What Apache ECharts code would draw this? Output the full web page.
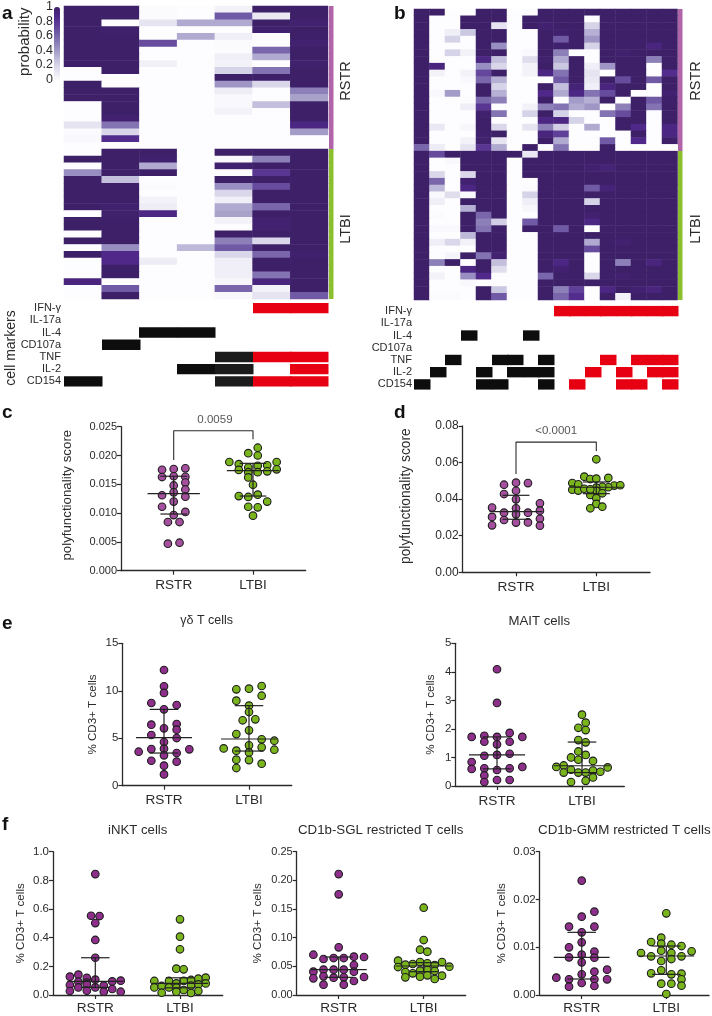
<!DOCTYPE html>
<html><head><meta charset="utf-8">
<style>html,body{margin:0;padding:0;background:#fff}#c{width:712px;height:1016px}</style>
<script src="https://cdn.jsdelivr.net/npm/echarts@6/dist/echarts.min.js"></script>
</head><body><div id="c"></div>
<script>
// ---------- heatmap data (rows = donors, columns = marker combinations) ----------
const groupNames = ['RSTR','LTBI'];
const groupSizes = [21,22];
const markerNames = ['IFN-γ','IL-17a','IL-4','CD107a','TNF','IL-2','CD154'];
const heatA = [
[1,1,.01,0,.05,1,1],[1,1,.01,0,.65,.1,1],[1,0,.12,.35,.35,1,.97],[1,.98,0,0,0,.98,1],[1,1,0,.35,.07,0,1],
[1,1,.7,0,.01,0,.97],[1,1,0,0,.01,.6,1],[1,1,0,0,.07,.35,1],[1,1,.06,0,.05,0,.98],[0,1,0,0,.2,.55,1],
[0,0,0,0,1,1,1],[1,0,0,0,.42,.18,1],[1,1,0,0,.08,0,.5],[1,1,0,0,.02,0,.38],[0,1,0,0,.02,.28,1],
[0,1,0,0,.05,0,1],[0,.97,0,0,0,0,1],[.12,.55,0,0,0,0,.9],[.01,.18,0,0,0,0,.4],[.02,.85,0,0,0,0,0],[0,0,0,0,0,0,0],
[0,1,1,0,1,1,1],[1,1,.98,0,.02,.5,1],[0,1,.35,0,.98,1,1],[.45,1,1,0,.01,.8,1],[1,.28,0,0,1,1,1],
[1,1,.01,0,.45,.7,1],[1,1,0,0,.18,1,1],[1,1,.05,0,.07,1,1],[1,.98,.08,0,.35,.6,1],[0,.98,.9,0,.38,1,1],
[1,1,0,0,.05,.97,1],[1,1,0,0,0,.97,1],[0,1,0,0,1,1,1],[1,1,0,0,.5,.18,1],[0,.45,0,.3,.65,1,1],
[1,.88,0,0,.18,.6,.98],[0,.88,.08,0,.07,1,1],[0,1,0,0,.07,1,1],[0,1,0,0,.07,.55,1],[.92,0,0,0,.03,.92,1],
[0,.65,0,0,.6,.05,1],[0,1,0,0,.02,.12,.65]];
const heatB = [
[1,1,0,0,1,1,0,.01,1,1,1,1,1,1,1,1,1],[1,0,0,1,1,1,0,1,1,1,1,0,1,1,1,1,1],[1,0,0,1,1,.12,0,1,.97,1,1,.2,1,1,1,1,1],
[1,0,.07,.25,1,1,0,0,1,.98,1,.33,1,1,1,1,1],[1,0,.2,0,1,1,0,0,1,.65,1,.42,1,1,1,1,1],[1,0,0,0,1,.45,0,0,1,.98,1,.2,1,1,1,.92,1],
[1,0,.2,.05,1,1,0,.02,1,.5,0,0,1,.98,1,1,1],[1,0,0,0,.9,.28,0,.15,.98,.35,1,0,1,1,1,.5,1],[1,.92,0,0,.45,.18,0,.05,1,.25,1,.07,.42,1,1,0,1],
[1,.05,0,.05,.72,1,0,.05,.9,.55,1,.12,0,1,1,0,.85],[1,0,0,.02,.6,.33,0,0,0,.65,1,.1,1,.7,1,.65,1],[1,0,0,0,1,.2,0,0,1,.28,.95,.07,.92,1,1,0,1],
[1,.02,.4,0,1,.33,0,0,.88,.35,.9,.55,.7,1,0,0,.97],[1,0,0,.01,.6,.5,0,0,1,0,.4,.33,1,0,1,.65,1],[1,0,0,.07,.8,0,0,.05,.5,.55,.35,.42,0,.5,1,.55,1],
[1,0,0,0,.98,.55,0,.2,1,.2,0,0,.55,.7,1,0,1],[1,0,0,0,1,0,0,0,.9,.9,.2,0,0,1,1,0,1],[1,.1,0,.03,1,.18,0,.12,.5,.22,0,.35,0,1,.88,0,.9],
[1,0,0,0,.98,1,0,0,.92,.75,0,0,0,0,1,0,.9],[1,0,0,.05,.98,.12,0,0,1,.35,0,0,.65,0,.88,0,1],[.6,.08,0,.12,.8,.35,0,1,0,.55,0,0,1,0,0,0,0],
[1,.7,1,1,1,1,1,.1,1,1,1,1,1,1,1,1,1],[1,0,.02,1,1,1,0,1,1,1,1,1,1,1,1,1,1],[1,0,0,1,1,1,0,1,1,1,1,.97,.95,1,1,1,1],
[1,.18,0,.18,1,1,0,1,1,1,1,1,1,1,1,1,1],[1,.6,0,.97,1,1,0,0,1,1,1,1,1,1,1,1,1],[1,.3,0,.9,1,1,0,.01,1,1,1,.65,.95,1,1,1,1],
[1,.02,.15,.02,1,1,0,.2,1,1,1,1,1,1,1,1,1],[1,.07,0,1,1,1,0,.07,1,1,1,.2,1,1,1,1,1],[1,0,0,.33,1,1,0,.03,1,1,1,1,1,1,1,1,1],
[1,.01,0,1,.6,1,0,0,1,1,1,.97,1,1,1,1,1],[1,0,0,1,.5,.22,0,.65,1,1,1,.9,1,1,1,1,1],[1,.02,.02,1,.55,1,0,1,1,.65,1,0,1,1,1,1,1],
[1,0,0,.3,1,1,0,0,1,1,1,1,1,1,1,1,1],[1,.07,.18,.05,1,1,0,0,1,1,1,.35,1,.97,1,1,1],[1,0,0,0,1,1,0,0,1,1,1,.7,1,1,1,1,1],
[1,0,.04,1,.55,.97,0,0,1,1,1,0,1,1,1,1,1],[1,.5,1,0,1,.28,0,0,1,.9,1,0,1,.5,1,.92,1],[1,0,0,.9,1,.15,0,0,1,.97,1,0,1,1,1,1,1],
[1,.05,0,.45,.88,0,0,0,.6,1,1,.18,1,.97,1,1,1],[1,0,0,.02,0,0,0,0,1,1,1,1,1,1,1,1,1],[1,0,0,0,1,.25,0,0,1,.5,.75,0,.9,1,.97,.92,1],
[1,.01,.01,0,1,.65,0,0,1,.6,.85,0,1,.05,1,1,1]];
// marker cells: 0 none, 1 black, 2 red, 3 charcoal  (rows follow markerNames)
const markersA = [
[0,0,0,0,0,2,2],[0,0,0,0,0,0,0],[0,0,1,1,0,0,0],[0,1,0,0,0,0,0],[0,0,0,0,3,2,2],[0,0,0,1,3,0,2],[1,0,0,0,3,2,2]];
const markersB = [
[0,0,0,0,0,0,0,0,0,2,2,2,2,2,2,2,2],[0,0,0,0,0,0,0,0,0,0,0,0,0,0,0,0,0],[0,0,0,1,0,0,0,1,0,0,0,0,0,0,0,0,0],
[0,0,0,0,0,0,0,0,0,0,0,0,0,0,0,0,0],[0,0,1,0,0,1,1,0,1,0,0,0,2,0,2,2,2],[0,1,0,0,1,0,1,1,1,0,0,2,0,2,0,2,2],
[1,0,0,0,1,1,0,0,1,0,2,0,0,2,2,0,2]];

// ---------- scatter data: values, swarm lanes, and [lower quartile, median, upper quartile] ----------
const groupLabels = ['RSTR','LTBI'];
const cRstr = [.01753,.01765,.01777,.01626,.0164,.0163,.0153,.0148,.0141,.0136,.0131,.01285,.012,.0111,.0102,.00966,.00845,.00845,.00469,.00486];
const cRstrLane = [-2,0,2,-2,0,2,2,0,2,0,-2,2,0,-2,2,0,-1,1,-1,1];
const cLtbi = [.02135,.0204,.02,.01887,.0185,.01887,.0183,.0179,.0182,.0175,.01725,.0176,.0171,.0171,.0162,.01493,.01296,.0128,.0132,.012,.0111,.011,.00955];
const cLtbiLane = [1,-1,1,-5,-3,5,3,-1,1,-3,3,5,-1,1,-1,0,-3,-1,1,3,-1,1,0];
const cRstrStats = [.00984,.01337,.0164], cLtbiStats = [.01296,.01736,.01864];

const dRstr = [.0479,.049,.0488,.0428,.0446,.0399,.0377,.0354,.035,.0337,.0326,.0317,.0326,.0303,.0293,.0286,.0272,.0273,.0257,.0255];
const dRstrLane = [-1,0,1,-1,0,0,2,-2,0,2,-1,0,1,-2,2,-1,0,1,-2,2];
const dLtbi = [.0618,.0523,.0516,.051,.0512,.0488,.0452,.0481,.0447,.0474,.0476,.0465,.0468,.0463,.0445,.0432,.0423,.0405,.0374,.0359,.035,.0457,.0454];
const dLtbiLane = [0,-2,2,-1,0,-4,-4,-3,-3,3,4,2,1,0,0,1,-1,0,0,1,-1,-2,-1];
const dRstrStats = [.029,.0332,.0421], dLtbiStats = [.043,.0465,.0494];

const e1Rstr = [12.19,10.47,9.77,8.71,8.5,8.04,6.43,6.5,6.04,5.9,5.34,5.02,4.6,3.86,3.9,3.83,3.58,3.44,3.2,2.63,2.53,2.11,1.19];
const e1RstrLane = [0,0,0,-1,1,0,-1,1,0,1,-1,1,0,-1,0,2,-2,1,0,-1,1,0,0];
const e1Ltbi = [10.5,10.15,10.22,8.96,9.48,8.43,7.76,6.89,6.99,5.83,5.44,4.88,4.74,4.25,4.04,3.93,3.69,3.79,3.51,2.74,2.7,2.32,1.86];
const e1LtbiLane = [2,-2,0,-2,2,0,0,-1,1,0,-2,2,4,0,2,-4,-2,4,0,-2,0,2,-2];
const e1RstrStats = [3.44,5.06,8.04], e1LtbiStats = [3.65,4.92,8.43];

const e2Rstr = [4.09,2.91,1.86,1.76,1.72,1.72,1.72,1.55,1.55,1.46,1.13,1.06,1.09,.84,.67,.6,.62,.62,.56,.37,.21,.21,.14];
const e2RstrLane = [0,0,1,-1,-2,0,2,-1,1,0,1,-1,0,-2,2,-2,-1,1,0,-1,0,1,-1];
const e2Ltbi = [2.5,2.22,2.04,1.96,1.61,1.53,1.21,1,1.09,.92,.88,.72,.67,.65,.57,.47,.47,.47,.54,.5,.3,.18,.14];
const e2LtbiLane = [0,1,-1,1,-1,1,-1,-3,1,-1,3,-5,-7,7,-3,-5,-1,1,3,5,3,1,-3];
const e2RstrStats = [.6,1.09,1.72], e2LtbiStats = [.47,.71,1.54];

const f1Rstr = [.844,.553,.551,.502,.384,.26,.128,.142,.119,.107,.093,.086,.095,.1,.07,.053,.074,.053,.065,.042,.028,.03,.023,.023];
const f1RstrLane = [0,-1,1,0,0,0,-6,-4,-2,0,-4,-2,4,6,-6,-4,-2,0,2,4,-6,-2,2,6];
const f1Ltbi = [.528,.407,.319,.184,.179,.121,.114,.098,.098,.105,.098,.081,.081,.074,.053,.063,.053,.05,.065,.035,.023,.016,.014,.028];
const f1LtbiLane = [0,0,0,-1,1,7,5,-7,-3,3,1,-1,7,5,-7,-5,-3,-1,3,1,-1,-5,3,5];
const f1RstrStats = [.053,.095,.26], f1LtbiStats = [.05,.081,.12];

const f2Rstr = [.211,.1756,.0831,.0703,.0628,.0645,.0645,.0669,.0663,.0523,.0407,.0442,.0442,.0442,.0407,.0291,.0326,.0302,.0308,.0314,.0244,.018,.018];
const f2RstrLane = [0,0,0,-5,-3,-1,1,3,5,3,-5,-3,-1,1,3,-5,-3,-1,1,5,3,-3,1];
const f2Ltbi = [.1523,.0959,.079,.0756,.0599,.0576,.0576,.0541,.0552,.0529,.0523,.0488,.0494,.0378,.0401,.0424,.0436,.0419,.032,.0343,.0337,.0308,.0279];
const f2LtbiLane = [0,0,-1,1,-7,5,-1,-3,1,-5,3,-7,7,-3,-5,-1,1,3,-1,1,5,-5,3];
const f2RstrStats = [.0308,.0442,.0663], f2LtbiStats = [.0407,.0506,.0564];

const f3Rstr = [.02393,.0164,.01744,.0143,.0143,.01312,.01102,.00998,.00907,.00844,.00788,.00781,.00684,.00488,.0053,.00433,.00363,.00328,.00328,.00328,.00251,.00174,.00188];
const f3RstrLane = [0,0,1,-1,1,0,0,-1,1,0,-1,1,0,1,2,0,-2,-1,1,2,0,-1,1];
const f3Ltbi = [.01709,.012,.01109,.01074,.01053,.01025,.00928,.00879,.00879,.00914,.00809,.00809,.00753,.00712,.00516,.00453,.00432,.00446,.00328,.00237,.00237,.00195,.00021];
const f3LtbiLane = [0,-1,-3,-1,1,3,-1,1,-5,5,-3,3,1,-1,-1,-3,1,3,3,-1,1,3,0];
const f3RstrStats = [.00335,.00788,.01312], f3LtbiStats = [.00432,.00816,.01025];

// ---------- styling ----------
const FONT = '"Liberation Sans", Arial, sans-serif';
const INK = '#2b2b2b', AXIS = '#2a2a2a';
const PURPLE_L = '#a5509f', PURPLE_D = '#8e2f8c', GREEN = '#7ab51d';
const HEAT = ['#fdfcfe','#e5e3f0','#cbc8e2','#a9a3cc','#8d80b9','#7460a8','#5f3f98','#50288a','#3d2068'];

const grid=[], xAxis=[], yAxis=[], series=[], graphic=[], title=[];
function addGrid(g,x,y){ grid.push(g); xAxis.push(Object.assign({gridIndex:grid.length-1},x)); yAxis.push(Object.assign({gridIndex:grid.length-1},y)); return grid.length-1; }
const hiddenCat = (data,inv)=>({type:'category',data,inverse:!!inv,show:false,boundaryGap:true});
function rotText(text,x,y,size){ graphic.push({type:'text',x,y,rotation:Math.PI/2,silent:true,style:{text,font:size+'px '+FONT,fill:INK,align:'center',verticalAlign:'middle'}}); }
function head(text,x,y,size,bold){ title.push({text,left:x,top:y,textAlign:bold?'left':'center',padding:0,textStyle:{fontFamily:FONT,fontSize:size,fontWeight:bold?'bold':'normal',color:bold?'#111':INK}}); }
const heatSeriesIndex=[];

// heatmap + group side bar + marker matrix
function heatPanel(rows,markers,box,mBox,sideX,labelGap){
  const cols = rows[0].map((_,i)=>'c'+i), ids = rows.map((_,i)=>'r'+i);
  const gi = addGrid({left:box.x,top:box.y,width:box.w,height:box.h},hiddenCat(cols),hiddenCat(ids,true));
  const data=[]; rows.forEach((r,ri)=>r.forEach((v,ci)=>data.push([ci,ri,v])));
  heatSeriesIndex.push(series.length);
  series.push({type:'heatmap',xAxisIndex:gi,yAxisIndex:gi,data,progressive:0,animation:false,emphasis:{disabled:true}});
  // group colour bar, same height as the rows, stacked from the group sizes
  const si = addGrid({left:sideX,top:box.y,width:4.5,height:box.h},{type:'category',data:['group'],show:false},
    {type:'value',min:0,max:rows.length,inverse:true,show:false});
  groupNames.forEach((n,i)=>series.push({type:'bar',name:n,stack:'s'+si,xAxisIndex:si,yAxisIndex:si,barWidth:'100%',data:[groupSizes[i]],
    itemStyle:{color:i?'#8cbf2e':'#b264a9'},silent:true}));
  // marker matrix
  const mi = addGrid({left:mBox.x,top:mBox.y,width:box.w,height:mBox.h},hiddenCat(cols),
    {type:'category',data:markerNames,inverse:true,axisLine:{show:false},axisTick:{show:false},
     axisLabel:{interval:0,fontFamily:FONT,fontSize:11,color:INK,margin:labelGap}});
  const md=[]; markers.forEach((r,ri)=>r.forEach((v,ci)=>{ if(v) md.push([ci,ri,v]); }));
  const mc={1:'#0d0d0d',2:'#e60012',3:'#1b1b1b'};
  series.push({type:'custom',xAxisIndex:mi,yAxisIndex:mi,data:md,silent:true,encode:{x:0,y:1},
    renderItem(p,api){ const c=api.coord([api.value(0),api.value(1)]), s=api.size([1,1]), h=s[1]*0.85;
      return {type:'rect',shape:{x:Math.round(c[0]-s[0]/2),y:c[1]-h/2,width:Math.round(s[0]+.5)+.5,height:h},style:{fill:mc[api.value(2)]}}; }});
}

// dot plot panel, px box is only layout
function dotPanel(cfg){
  const pitch=cfg.t2-cfg.t1, xmin=1-(cfg.t1-cfg.l)/pitch, xmax=2+(cfg.r-cfg.t2)/pitch;
  const gi=addGrid({left:cfg.l,width:cfg.r-cfg.l,top:cfg.top,height:cfg.bottom-cfg.top},
   {type:'value',min:xmin,max:xmax,splitLine:{show:false},
    axisLine:{onZero:false,lineStyle:{color:AXIS,width:1.3}},
    axisTick:{customValues:[1,2],length:4,lineStyle:{color:AXIS,width:1.2}},
    axisLabel:{customValues:[1,2],formatter:v=>groupLabels[Math.round(v)-1],fontFamily:FONT,fontSize:cfg.xFont||13.6,color:INK,margin:cfg.xMargin||8,showMinLabel:true,showMaxLabel:true}},
   {type:'value',min:0,max:cfg.max,interval:cfg.step,splitLine:{show:false},
    name:cfg.name,nameLocation:'middle',nameGap:cfg.gap,nameTextStyle:{fontFamily:FONT,fontSize:cfg.nameFont,color:INK,padding:cfg.namePad||0},
    axisLine:{show:true,onZero:false,lineStyle:{color:AXIS,width:1.3}},
    axisTick:{show:true,length:4,lineStyle:{color:AXIS,width:1.2}},
    axisLabel:{formatter:v=>v.toFixed(cfg.dec),fontFamily:FONT,fontSize:cfg.tickFont,color:INK,margin:cfg.tickMargin||4,showMaxLabel:true}});
  const groups=[[1,cfg.rstr,cfg.rLane,cfg.rStep,cfg.purple,cfg.rStats],[2,cfg.ltbi,cfg.lLane,cfg.lStep,GREEN,cfg.lStats]];
  groups.forEach(([g,vals,lanes,step,col,st])=>{
    series.push({type:'scatter',xAxisIndex:gi,yAxisIndex:gi,clip:false,z:3,symbolSize:7.6,silent:true,
      itemStyle:{color:col,borderColor:'#1d1d1d',borderWidth:1.1,opacity:1},
      data:vals.map((v,i)=>[g+lanes[i]*step,v])});
    series.push({type:'custom',xAxisIndex:gi,yAxisIndex:gi,z:4,silent:true,clip:false,data:[[g,st[0],st[1],st[2]]],
      encode:{x:0,y:[1,2,3]},
      renderItem(p,api){ const gx=api.value(0), lo=api.value(1), me=api.value(2), hi=api.value(3);
        const seg=(x1,y1,x2,y2)=>{const a=api.coord([x1,y1]),b=api.coord([x2,y2]);
          return {type:'line',shape:{x1:a[0],y1:a[1],x2:b[0],y2:b[1]},style:{stroke:'#222',lineWidth:1.2}};};
        return {type:'group',children:[seg(gx-.33,me,gx+.33,me),seg(gx-.168,lo,gx+.168,lo),seg(gx-.168,hi,gx+.168,hi),seg(gx,lo,gx,hi)]}; }});
  });
  if(cfg.sig){ const [a,b,c,txt]=cfg.sig;
    series.push({type:'line',xAxisIndex:gi,yAxisIndex:gi,clip:false,z:2,silent:true,showSymbol:false,symbol:'none',
      lineStyle:{color:'#2a2a2a',width:1.1},data:[[1,a],[1,b],[2,b],[2,c]]});
    series.push({type:'scatter',xAxisIndex:gi,yAxisIndex:gi,clip:false,symbolSize:0,silent:true,data:[[1.5+(cfg.sigDx||0),b]],
      label:{show:true,position:'top',distance:cfg.sigDist,formatter:txt,fontFamily:FONT,fontSize:cfg.sigFont||11,color:INK}});
  }
}

// ---------- panels a, b ----------
heatPanel(heatA,markersA,{x:64,y:6,w:264,h:293},{x:64,y:302,h:85.5},329,3);
heatPanel(heatB,markersB,{x:414,y:9,w:263.5,h:291},{x:414,y:305,h:85.5},678,2);
// colour scale labels for panel a
addGrid({left:54,top:6.5,width:6,height:73},
  {type:'category',data:[''],show:false},
  {type:'value',min:0,max:1,interval:.2,splitLine:{show:false},axisLine:{show:false},axisTick:{show:false},
   axisLabel:{fontFamily:FONT,fontSize:12.5,color:INK,margin:1}});
rotText('probability',25,41.7,15);
rotText('cell markers',11.5,348,14);
rotText('RSTR',345.7,81,14.5); rotText('LTBI',345.7,229,14.5);
rotText('RSTR',696,81,14.5); rotText('LTBI',696,229,14.5);

// ---------- panels c–f ----------
dotPanel({l:121,r:305.7,t1:173.7,t2:253,top:426.7,bottom:570.7,max:.025,step:.005,dec:3,tickFont:11,
  name:'polyfunctionality score',nameFont:13.3,gap:47,namePad:[0,0,0,7],purple:PURPLE_L,
  rstr:cRstr,rLane:cRstrLane,rStep:.0735,rStats:cRstrStats,ltbi:cLtbi,lLane:cLtbiLane,lStep:.0597,lStats:cLtbiStats,
  sig:[.0192,.0243,.0228,'0.0059'],sigDist:5,sigDx:.02,sigFont:11.5});
dotPanel({l:462.7,r:650,t1:516,t2:596.3,top:426,bottom:572.3,max:.08,step:.02,dec:2,tickFont:12,
  name:'polyfunctionality score',nameFont:13.8,gap:50,namePad:[0,0,0,6],purple:PURPLE_L,
  rstr:dRstr,rLane:dRstrLane,rStep:.149,rStats:dRstrStats,ltbi:dLtbi,lLane:dLtbiLane,lStep:.0747,lStats:dLtbiStats,
  sig:[.0538,.0712,.0663,'<0.0001'],sigDist:5,sigDx:.0,sigFont:11.5});
const pct='% CD3+ T cells';
dotPanel({l:122.3,r:291.7,t1:164,t2:249,top:643.3,bottom:785.7,max:15,step:5,dec:0,tickFont:11.5,xMargin:8,
  name:pct,nameFont:11.6,gap:24,purple:PURPLE_D,
  rstr:e1Rstr,rLane:e1RstrLane,rStep:.149,rStats:e1RstrStats,ltbi:e1Ltbi,lLane:e1LtbiLane,lStep:.0745,lStats:e1LtbiStats});
dotPanel({l:455.3,r:624.3,t1:497,t2:582,top:643.3,bottom:786,max:5,step:1,dec:0,tickFont:11.5,xMargin:8,
  name:pct,nameFont:11.6,gap:19,purple:PURPLE_D,
  rstr:e2Rstr,rLane:e2RstrLane,rStep:.149,rStats:e2RstrStats,ltbi:e2Ltbi,lLane:e2LtbiLane,lStep:.0431,lStats:e2LtbiStats});
dotPanel({l:53,r:222.7,t1:95.3,t2:180,top:851.7,bottom:995,max:1,step:.2,dec:1,tickFont:11.5,xMargin:6,
  name:pct,nameFont:11.6,gap:26,purple:PURPLE_D,
  rstr:f1Rstr,rLane:f1RstrLane,rStep:.05,rStats:f1RstrStats,ltbi:f1Ltbi,lLane:f1LtbiLane,lStep:.0433,lStats:f1LtbiStats});
dotPanel({l:296.7,r:465.7,t1:338.7,t2:423.7,top:851.7,bottom:995,max:.25,step:.05,dec:2,tickFont:11,xMargin:6,
  name:pct,nameFont:11.6,gap:33,purple:PURPLE_D,
  rstr:f2Rstr,rLane:f2RstrLane,rStep:.0596,rStats:f2RstrStats,ltbi:f2Ltbi,lLane:f2LtbiLane,lStep:.0431,lStats:f2LtbiStats});
dotPanel({l:539.7,r:709,t1:581.7,t2:666.3,top:851.7,bottom:995,max:.03,step:.01,dec:2,tickFont:11.5,xMargin:6,
  name:pct,nameFont:11.6,gap:32,purple:PURPLE_D,
  rstr:f3Rstr,rLane:f3RstrLane,rStep:.15,rStats:f3RstrStats,ltbi:f3Ltbi,lLane:f3LtbiLane,lStep:.0598,lStats:f3LtbiStats});

// ---------- titles and panel letters ----------
head('γδ T cells',206.7,614.5,12.5);
head('MAIT cells',539.3,614.5,13.2);
head('iNKT cells',137.7,823.5,13.2);
head('CD1b-SGL restricted T cells',380.7,823.5,13.3);
head('CD1b-GMM restricted T cells',624.3,823.5,13.4);
[['a',2,4],['b',394,4],['c',2,403],['d',394,403],['e',2,614],['f',2,815]].forEach(([t,x,y])=>head(t,x,y,19,true));

const chart=echarts.init(document.getElementById('c'),null,{renderer:'canvas'});
chart.setOption({animation:false,backgroundColor:'#fff',title,grid,xAxis,yAxis,series,graphic:{elements:graphic},
  tooltip:{show:false},
  visualMap:[{type:'continuous',seriesIndex:heatSeriesIndex,min:0,max:1,show:true,calculable:false,orient:'vertical',
    left:54,top:7,itemWidth:6,itemHeight:73,padding:0,text:null,showLabel:false,inRange:{color:HEAT},textStyle:{fontSize:0}}]});
</script></body></html>
